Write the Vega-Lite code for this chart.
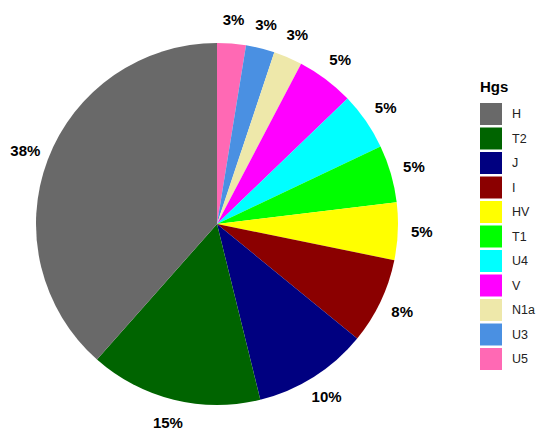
{
  "$schema": "https://vega.github.io/schema/vega-lite/v6.json",
  "autosize": "none",
  "width": 434,
  "height": 438,
  "padding": {"top": 5, "left": 0, "right": 116, "bottom": 0},
  "background": "white",
  "config": {"view": {"stroke": null}, "font": "Liberation Sans"},
  "data": {
    "values": [
      {"hg": "U5", "n": 1, "o": 1, "label": "3%"},
      {"hg": "U3", "n": 1, "o": 2, "label": "3%"},
      {"hg": "N1a", "n": 1, "o": 3, "label": "3%"},
      {"hg": "V", "n": 2, "o": 4, "label": "5%"},
      {"hg": "U4", "n": 2, "o": 5, "label": "5%"},
      {"hg": "T1", "n": 2, "o": 6, "label": "5%"},
      {"hg": "HV", "n": 2, "o": 7, "label": "5%"},
      {"hg": "I", "n": 3, "o": 8, "label": "8%"},
      {"hg": "J", "n": 4, "o": 9, "label": "10%"},
      {"hg": "T2", "n": 6, "o": 10, "label": "15%"},
      {"hg": "H", "n": 15, "o": 11, "label": "38%"}
    ]
  },
  "encoding": {
    "theta": {"field": "n", "type": "quantitative", "stack": true},
    "order": {"field": "o", "type": "quantitative", "sort": "ascending"}
  },
  "layer": [
    {
      "mark": {"type": "arc", "outerRadius": 181},
      "encoding": {
        "color": {
          "field": "hg",
          "type": "nominal",
          "title": "Hgs",
          "scale": {
            "domain": ["H", "T2", "J", "I", "HV", "T1", "U4", "V", "N1a", "U3", "U5"],
            "range": ["#696969", "#006400", "#000080", "#8B0000", "#FFFF00", "#00FF00", "#00FFFF", "#FF00FF", "#EEE8AA", "#4A90E2", "#FF69B4"]
          },
          "legend": {
            "orient": "none",
            "legendX": 480,
            "legendY": 75,
            "symbolType": "square",
            "symbolSize": 484,
            "symbolStrokeWidth": 0,
            "symbolOpacity": 1,
            "rowPadding": 2.5,
            "titleFont": "Liberation Sans",
            "titleFontSize": 15,
            "titleFontWeight": "bold",
            "titleColor": "black",
            "titlePadding": 8,
            "labelFont": "Liberation Sans",
            "labelFontSize": 12.5,
            "labelColor": "#222222",
            "labelOffset": 10
          }
        }
      }
    },
    {
      "mark": {"type": "text", "radius": 205, "font": "Liberation Sans", "fontSize": 15, "fontWeight": "bold", "color": "black"},
      "encoding": {"text": {"field": "label"}}
    }
  ]
}
